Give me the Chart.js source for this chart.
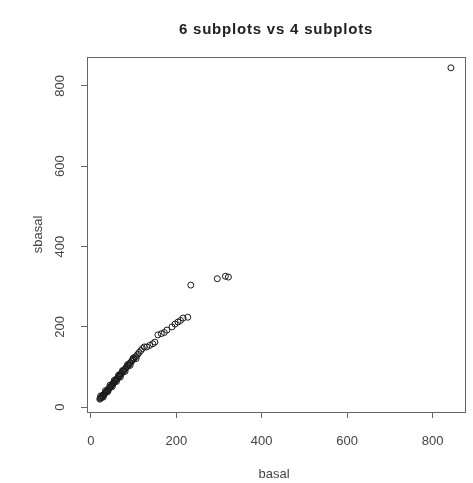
<!DOCTYPE html>
<html>
<head>
<meta charset="utf-8">
<script src="https://cdn.jsdelivr.net/npm/chart.js@4"></script>
<style>
  html, body { margin: 0; padding: 0; background: #fff; }
  #wrap { width: 473px; height: 483px; }
</style>
</head>
<body>
<div id="wrap"><canvas id="chart" width="473" height="483"></canvas></div>
<script>
// values
const basal = [21, 22, 24, 25, 27, 28, 30, 31, 33, 35, 36, 38, 39, 41, 43, 44, 46, 47, 49, 51,
  52, 54, 56, 57, 59, 61, 62, 64, 66, 68, 70, 71, 73, 75, 77, 79, 81, 83, 85, 87,
  89, 91, 93, 96, 98, 101, 104, 107, 110, 113, 117, 121, 125,
  23, 29, 34, 40, 45, 50, 55, 60, 65, 69, 74, 80, 86, 92, 99, 106,
  131, 138, 145, 150, 157, 165, 172, 178, 190, 197, 204, 210, 216, 227,
  234, 296, 315, 322, 843];
const sbasal = [20, 22, 23, 25, 27, 29, 31, 32, 35, 37, 38, 41, 42, 45, 47, 49, 51, 52, 55, 57,
  59, 61, 64, 65, 68, 70, 72, 74, 77, 79, 82, 83, 86, 89, 91, 94, 96, 99, 101, 104,
  106, 109, 111, 115, 118, 121, 125, 128, 132, 136, 141, 146, 150,
  28, 25, 41, 39, 55, 51, 67, 64, 80, 75, 91, 89, 106, 104, 122, 121,
  150, 154, 158, 162, 180, 183, 186, 192, 200, 207, 212, 216, 222, 224,
  304, 320, 326, 324, 845];
const xTicks = [0, 200, 400, 600, 800];
const yTicks = [0, 200, 400, 600, 800];
const mainTitle = '6 subplots vs 4 subplots';
const xTitle = 'basal';
const yTitle = 'sbasal';

const points = basal.map((x, i) => ({ x: x, y: sbasal[i] }));

const frameAndText = {
    id: 'frameAndText',
    afterDraw(chart) {
        const ctx = chart.ctx;
        const a = chart.chartArea;
        const xs = chart.scales.x;
        const ys = chart.scales.y;
        ctx.save();
        ctx.strokeStyle = '#666';
        ctx.lineWidth = 1;
        ctx.strokeRect(Math.round(a.left) + 0.5, Math.round(a.top) + 0.5,
            Math.round(a.right - a.left), Math.round(a.bottom - a.top));

        ctx.fillStyle = '#444';
        ctx.font = '13px "Liberation Sans", Arial, sans-serif';
        ctx.textAlign = 'center';
        ctx.textBaseline = 'middle';
        xTicks.forEach(v => {
            ctx.fillText(String(v), xs.getPixelForValue(v), 441);
        });
        ctx.fillText(xTitle, (a.left + a.right) / 2 - 2, 474);

        yTicks.forEach(v => {
            ctx.save();
            ctx.translate(60, ys.getPixelForValue(v));
            ctx.rotate(-Math.PI / 2);
            ctx.fillText(String(v), 0, 0);
            ctx.restore();
        });
        ctx.save();
        ctx.translate(38, (a.top + a.bottom) / 2);
        ctx.rotate(-Math.PI / 2);
        ctx.fillText(yTitle, 0, 0);
        ctx.restore();

        ctx.fillStyle = '#222';
        ctx.font = 'bold 15px "Liberation Sans", Arial, sans-serif';
        ctx.letterSpacing = '0.8px';
        ctx.fillText(mainTitle, (a.left + a.right) / 2, 30);
        ctx.restore();
    }
};

const ctx = document.getElementById('chart').getContext('2d');
new Chart(ctx, {
    type: 'scatter',
    data: {
        datasets: [{
            data: points,
            pointStyle: 'circle',
            pointRadius: 3,
            pointHoverRadius: 3,
            borderWidth: 1,
            borderColor: '#1a1a1a',
            backgroundColor: 'rgba(0,0,0,0)'
        }]
    },
    options: {
        responsive: false,
        animation: false,
        devicePixelRatio: 1,
        layout: { padding: { left: 81, right: 8, top: 57, bottom: 65 } },
        plugins: {
            legend: { display: false },
            tooltip: { enabled: false },
            title: { display: false }
        },
        scales: {
            x: {
                type: 'linear',
                min: -9,
                max: 876,
                afterBuildTicks: s => { s.ticks = xTicks.map(v => ({ value: v })); },
                ticks: { display: false },
                grid: { drawOnChartArea: false, drawTicks: true, tickLength: 6, color: '#666' },
                border: { display: false }
            },
            y: {
                type: 'linear',
                min: -12,
                max: 872,
                afterBuildTicks: s => { s.ticks = yTicks.map(v => ({ value: v })); },
                ticks: { display: false },
                grid: { drawOnChartArea: false, drawTicks: true, tickLength: 6, color: '#666' },
                border: { display: false }
            }
        }
    },
    plugins: [frameAndText]
});
</script>
</body>
</html>
